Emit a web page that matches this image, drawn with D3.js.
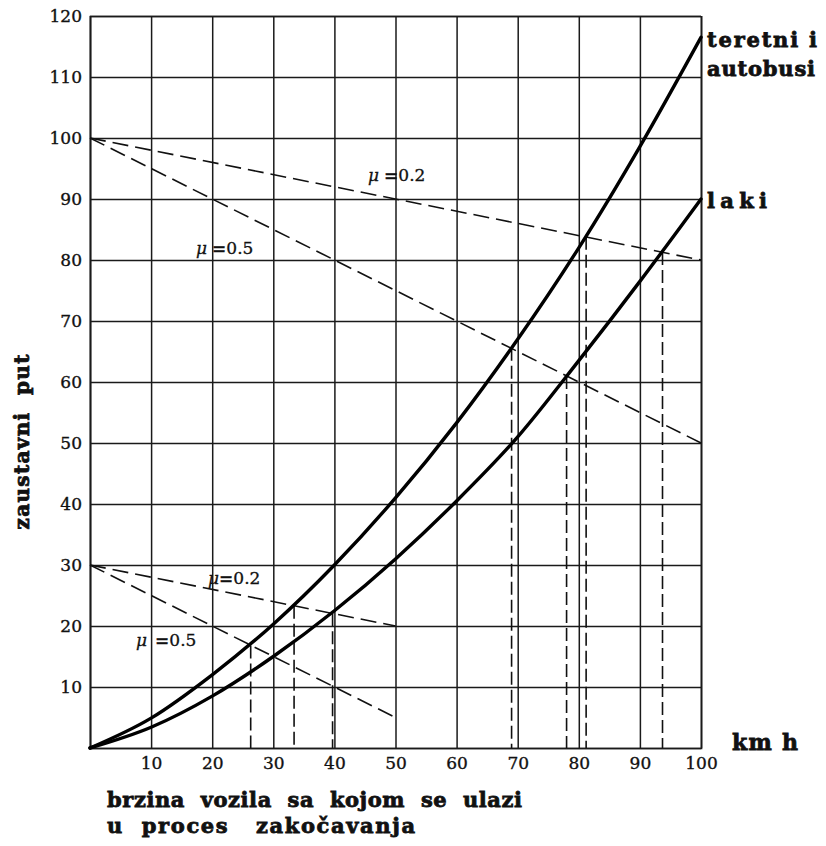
<!DOCTYPE html>
<html>
<head>
<meta charset="utf-8">
<script src="https://cdn.jsdelivr.net/npm/d3@7/dist/d3.min.js"></script>
<style>
  html, body { margin: 0; padding: 0; background: #fff; }
  svg { display: block; }
  text { font-family: "DejaVu Serif", "Liberation Serif", serif; fill: #111; }
  .heavy { font-weight: bold; stroke: #111; stroke-width: 0.8px; white-space: pre; }
</style>
</head>
<body>
<svg id="chart" width="826" height="846"></svg>
<script>
// speed (km/h) at which the curves are sampled
const speeds = [0, 10, 20, 30, 40, 50, 60, 70, 80, 90, 100];
// stopping distance, trucks and buses
const heavyDist = [0, 4.9, 12, 20.3, 30, 41, 53.3, 67, 82, 98.6, 116.5];
// stopping distance, light vehicles
const lightDist = [0, 3.4, 8.5, 15, 22.5, 31, 40.5, 51, 63.5, 76.5, 90];

// friction guide lines: [x0, y0, x1, y1]
const frictionLines = [
  [0, 100, 100, 80],  // μ=0.2, upper scale
  [0, 100, 100, 50],  // μ=0.5, upper scale
  [0, 30, 50, 20],    // μ=0.2, lower scale
  [0, 30, 50, 5]      // μ=0.5, lower scale
];

// dashed drops from the intersections to the speed axis
const dropX = [26.3, 33.4, 39.7, 69, 78, 81.2, 93.7];
const dropY = [16.8, 23.3, 22.1, 65.6, 61, 83.8, 81.3];

const xTicks = [10, 20, 30, 40, 50, 60, 70, 80, 90, 100];
const yTicks = [10, 20, 30, 40, 50, 60, 70, 80, 90, 100, 110, 120];

const svg = d3.select("#chart");
const x = d3.scaleLinear().domain([0, 100]).range([90, 701]);
const y = d3.scaleLinear().domain([0, 120]).range([748, 16]);

const gridColor = "#1a1a1a";

// grid + axes
const gx = svg.append("g").attr("transform", `translate(0,${y(0)})`)
  .call(d3.axisBottom(x).tickValues(xTicks).tickSize(-(y(0) - y(120))).tickPadding(7)
    .tickFormat(d3.format("d")));
const gy = svg.append("g").attr("transform", `translate(${x(0)},0)`)
  .call(d3.axisLeft(y).tickValues(yTicks).tickSize(-(x(100) - x(0))).tickPadding(8)
    .tickFormat(d3.format("d")));
[gx, gy].forEach(g => {
  g.attr("font-family", null).attr("font-size", null);
  g.selectAll(".tick line").attr("stroke", gridColor).attr("stroke-width", 1.5);
  g.select(".domain").attr("stroke", gridColor).attr("stroke-width", 1.7);
  g.selectAll(".tick text")
    .style("font-family", "'DejaVu Serif', serif")
    .style("font-size", "17px")
    .attr("fill", "#111").attr("stroke", "#111").attr("stroke-width", 0.35);
});
gx.selectAll(".tick text").attr("dy", "0.85em");
gy.selectAll(".tick text").attr("x", -8);

// friction lines
svg.append("g").selectAll("line").data(frictionLines).join("line")
  .attr("x1", d => x(d[0])).attr("y1", d => y(d[1]))
  .attr("x2", d => x(d[2])).attr("y2", d => y(d[3]))
  .attr("stroke", "#111").attr("stroke-width", 1.6)
  .attr("stroke-dasharray", "16,7");

// vertical drops
svg.append("g").selectAll("line").data(dropX).join("line")
  .attr("x1", d => x(d)).attr("x2", d => x(d))
  .attr("y1", (d, i) => y(dropY[i])).attr("y2", y(0))
  .attr("stroke", "#111").attr("stroke-width", 1.6)
  .attr("stroke-dasharray", "13,5");

// stopping-distance curves
const line = d3.line().x((d, i) => x(speeds[i])).y(d => y(d)).curve(d3.curveMonotoneX);
[heavyDist, lightDist].forEach(arr => {
  svg.append("path").attr("d", line(arr))
    .attr("fill", "none").attr("stroke", "#000").attr("stroke-width", 3.4)
    .attr("stroke-linecap", "round");
});

// curve names
const bold = (t, px, py, size, width) =>
  svg.append("text").attr("class", "heavy").attr("x", px).attr("y", py).text(t)
    .style("font-size", size + "px")
    .attr("textLength", width).attr("lengthAdjust", "spacing");
bold("teretni i", 707, 47, 21, 110);
bold("autobusi", 707, 76, 21, 108);
bold("laki", 707, 208, 21, 60);
bold("km h", 732, 750, 22, 66);

// axis titles
svg.append("text").attr("class", "heavy").attr("x", 107).attr("y", 807)
  .attr("textLength", 415).attr("lengthAdjust", "spacing")
  .style("font-size", "21px")
  .text("brzina  vozila  sa  kojom  se  ulazi");
svg.append("text").attr("class", "heavy").attr("x", 107).attr("y", 833)
  .attr("textLength", 308).attr("lengthAdjust", "spacing")
  .style("font-size", "21px")
  .text("u  proces   zakočavanja");
svg.append("text").attr("class", "heavy")
  .attr("transform", "translate(29,442) rotate(-90)")
  .attr("text-anchor", "middle")
  .attr("textLength", 175).attr("lengthAdjust", "spacing")
  .style("font-size", "20px")
  .text("zaustavni  put");

// μ labels
const mu = (px, py, gap, val) => {
  const t = svg.append("text").attr("x", px).attr("y", py).style("font-size", "17px")
    .attr("stroke", "#111").attr("stroke-width", 0.3);
  t.append("tspan").style("font-style", "italic").text("μ");
  t.append("tspan").attr("dx", gap).style("font-weight", "bold").text("=");
  t.append("tspan").text(val);
};
mu(368, 181, 5, "0.2");
mu(196, 254, 5, "0.5");
mu(208, 584, 0, "0.2");
mu(136, 646, 8, "0.5");
</script>
</body>
</html>
